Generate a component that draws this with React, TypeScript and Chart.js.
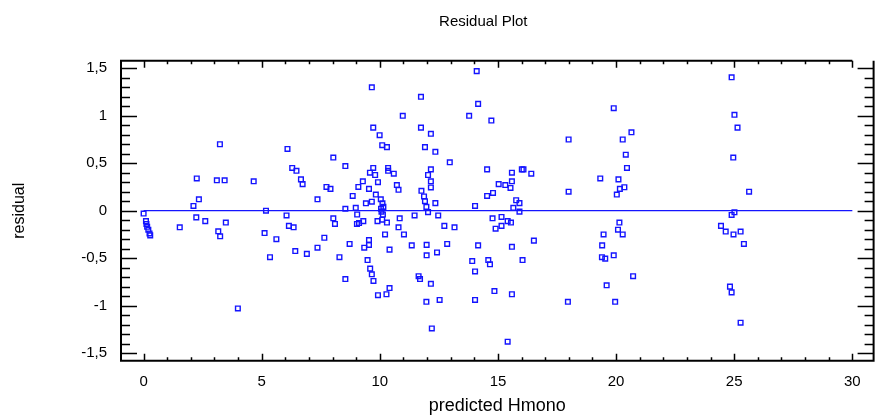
import React, { useEffect, useRef } from "react";
import { Chart, registerables } from "chart.js";

Chart.register(...registerables);

const predicted: number[] = [
  0.0, 0.1, 0.12, 0.15, 0.2, 0.25, 0.28, 1.53, 2.11, 2.25, 2.34, 2.23, 2.61, 3.23, 3.1, 3.43, 3.48, 3.16, 3.24, 3.99,
  4.66, 5.18, 5.12, 5.35, 5.62, 6.05, 6.15, 6.35, 6.42, 6.09, 6.29, 6.47, 6.66, 6.73, 6.91, 7.36, 7.36, 7.65, 7.74, 7.91,
  8.03, 8.03, 8.1, 8.29, 8.54, 8.54, 8.54, 8.72, 8.85, 8.98, 9.04, 9.03, 9.12, 9.09, 9.28, 9.3, 9.34, 9.41, 9.48, 9.54,
  9.54, 9.54, 9.58, 9.59, 9.66, 9.66, 9.66, 9.72, 9.72, 9.73, 9.8, 9.83, 9.92, 9.92, 9.9, 9.99, 10.04, 10.11, 10.15, 10.05,
  10.07, 10.13, 10.1, 10.1, 10.3, 10.3, 10.22, 10.28, 10.35, 10.35, 10.41, 10.41, 10.59, 10.72, 10.79, 10.84, 10.79, 10.97, 11.02, 11.35,
  11.47, 11.64, 11.7, 11.74, 11.74, 11.76, 11.87, 11.91, 11.97, 11.91, 12.04, 11.98, 11.98, 11.97, 12.16, 12.35, 12.16, 12.04, 12.16, 12.16,
  12.35, 12.47, 12.42, 12.53, 12.16, 12.2, 12.73, 12.85, 12.96, 13.16, 13.78, 13.91, 14.03, 14.03, 14.03, 14.1, 14.16, 14.16, 14.54, 14.54,
  14.59, 14.66, 14.72, 14.79, 14.77, 14.85, 14.9, 15.03, 15.15, 15.15, 15.31, 15.41, 15.41, 15.53, 15.55, 15.59, 15.59, 15.59, 15.59, 15.65,
  15.77, 15.91, 15.91, 16.01, 16.08, 16.04, 16.41, 16.52, 17.99, 17.99, 17.96, 19.33, 19.4, 19.54, 19.41, 19.47, 19.6, 19.9, 19.9, 19.96,
  20.03, 20.1, 20.16, 20.35, 20.14, 20.08, 20.28, 20.28, 20.41, 20.46, 20.65, 20.72, 24.44, 24.64, 24.82, 24.89, 24.89, 24.89, 24.96, 24.97,
  25.01, 25.01, 25.14, 25.27, 25.27, 25.41, 25.63,
];

const residual: number[] = [
  -0.03, -0.11, -0.14, -0.17, -0.2, -0.24, -0.26, -0.175, 0.05, 0.34, 0.12, -0.07, -0.11, 0.7, 0.32, 0.32, -0.125, -0.217, -0.27, -1.03,
  0.31, 0.0, -0.235, -0.49, -0.3, -0.05, -0.16, -0.175, -0.425, 0.65, 0.45, 0.42, 0.33, 0.28, -0.455, 0.12, -0.39, -0.285, 0.25, 0.23,
  0.56, -0.08, -0.14, -0.49, 0.47, 0.02, -0.72, -0.35, 0.155, 0.03, -0.04, -0.14, -0.13, 0.25, 0.31, -0.11, -0.39, 0.078, -0.52, 0.23,
  -0.31, -0.36, 0.4, -0.61, 1.3, 0.095, -0.67, 0.875, 0.45, -0.74, 0.376, 0.17, 0.3, -0.89, -0.11, 0.795, 0.12, 0.078, 0.04, 0.02,
  -0.01, -0.04, -0.095, 0.69, 0.67, -0.125, -0.25, -0.88, 0.45, 0.42, -0.41, -0.815, 0.39, 0.27, 0.22, -0.08, -0.175, 1.0, -0.25, -0.365,
  -0.05, -0.69, -0.72, 1.2, 0.875, 0.21, 0.15, 0.1, 0.04, 0.67, -0.015, -0.36, -0.47, -0.96, 0.81, 0.62, 0.435, 0.376, 0.31, 0.245,
  0.08, -0.05, -0.44, -0.94, -0.77, -1.24, -0.16, -0.35, 0.51, -0.175, 1.0, -0.53, 0.05, -0.64, -0.94, 1.47, 1.125, -0.365, 0.435, 0.155,
  -0.52, -0.565, 0.95, 0.187, -0.08, -0.846, -0.19, 0.28, -0.066, -0.16, 0.27, -0.11, -1.38, 0.24, -0.125, 0.4, 0.31, -0.38, -0.88, 0.03,
  0.11, 0.08, -0.01, 0.435, 0.435, -0.52, 0.39, -0.315, 0.75, 0.2, -0.96, 0.34, -0.49, -0.505, -0.365, -0.25, -0.786, 1.08, -0.47, -0.96,
  0.17, 0.33, 0.23, 0.247, -0.125, -0.2, -0.25, 0.75, 0.59, 0.45, 0.826, -0.69, -0.16, -0.22, -0.8, -0.86, 1.405, -0.045, 0.56, -0.25,
  1.01, -0.017, 0.875, -0.22, -1.18, -0.35, 0.2,
];

const zeroLineX: number[] = [0, 30];
const xTickValues: number[] = [0, 5, 10, 15, 20, 25, 30];
const yTickValues: number[] = [-1.5, -1, -0.5, 0, 0.5, 1, 1.5];
const xMinorStep = 1;
const yMinorStep = 0.1;

const chartTitle = "Residual Plot";
const xTitle = "predicted Hmono";
const yTitle = "residual";

const FONT = "'Liberation Sans', Arial, Helvetica, sans-serif";
const BLUE = "rgb(20,20,255)";

const framePlugin = {
  id: "frameTicks",
  afterDatasetsDraw(chart: any) {
    const { ctx, chartArea } = chart;
    const { left, right, top, bottom } = chartArea;
    const xs = chart.scales.x;
    const ys = chart.scales.y;
    const xLast = xs.getPixelForValue(xTickValues[xTickValues.length - 1]);
    ctx.save();
    ctx.strokeStyle = "#000";
    ctx.lineWidth = 2;
    ctx.beginPath();
    ctx.moveTo(xLast, top);
    ctx.lineTo(left, top);
    ctx.lineTo(left, bottom);
    ctx.lineTo(right, bottom);
    ctx.lineTo(right, top);
    ctx.stroke();
    ctx.lineWidth = 1.5;
    ctx.beginPath();
    const xMin = Math.ceil(xs.min / xMinorStep) * xMinorStep;
    for (let v = xMin; v <= xs.max + 1e-9; v += xMinorStep) {
      const major = Math.abs(v / 5 - Math.round(v / 5)) < 1e-6;
      const len = major ? 7 : 3.5;
      const px = Math.round(xs.getPixelForValue(v)) + 0.5;
      ctx.moveTo(px, bottom);
      ctx.lineTo(px, bottom - len);
      ctx.moveTo(px, top);
      ctx.lineTo(px, top + len);
    }
    const yStart = Math.ceil(ys.min / yMinorStep - 1e-6);
    const yEnd = Math.floor(ys.max / yMinorStep + 1e-6);
    for (let i = yStart; i <= yEnd; i++) {
      const v = i * yMinorStep;
      const major = i % 5 === 0;
      const len = major ? 16 : 9;
      const py = Math.round(ys.getPixelForValue(v)) + 0.5;
      ctx.moveTo(left, py);
      ctx.lineTo(left + len, py);
      ctx.moveTo(right, py);
      ctx.lineTo(right - len, py);
    }
    ctx.stroke();
    ctx.fillStyle = "#000";
    ctx.font = `15px ${FONT}`;
    ctx.textAlign = "center";
    ctx.textBaseline = "middle";
    ctx.fillText(chartTitle, (left + right) / 2 - 14, 22);
    ctx.restore();
  },
};

const fmt = (v: number) => String(v).replace(".", ",");

export default function App() {
  const canvasRef = useRef<HTMLCanvasElement | null>(null);

  useEffect(() => {
    document.body.style.margin = "0";
    const canvas = canvasRef.current;
    if (!canvas) return;
    const points = predicted.map((x, i) => ({ x, y: residual[i] }));
    const line = zeroLineX.map((x) => ({ x, y: 0 }));
    const chart = new Chart(canvas, {
      type: "scatter",
      data: {
        datasets: [
          {
            label: "zero",
            data: line,
            showLine: true,
            borderColor: BLUE,
            borderWidth: 1.3,
            pointRadius: 0,
            order: 2,
          },
          {
            label: "residual",
            data: points,
            pointStyle: "rect",
            pointRadius: 3.3,
            borderColor: BLUE,
            backgroundColor: "rgba(0,0,0,0)",
            borderWidth: 1.4,
            order: 1,
          },
        ],
      },
      options: {
        responsive: false,
        animation: false,
        devicePixelRatio: 1,
        layout: { padding: { left: 0, right: 2, top: 60.7, bottom: 0 } },
        plugins: {
          legend: { display: false },
          tooltip: { enabled: false },
          title: { display: false },
        },
        scales: {
          x: {
            type: "linear",
            min: -0.957,
            max: 30.9,
            grid: { display: false, drawTicks: false },
            border: { display: false },
            afterBuildTicks: (scale: any) => {
              scale.ticks = xTickValues.map((value) => ({ value }));
            },
            afterFit: (scale: any) => {
              scale.height = 57.3;
            },
            ticks: {
              color: "#000",
              font: { family: FONT, size: 15 },
              padding: 12,
              maxRotation: 0,
              autoSkip: false,
              callback: (v: any) => fmt(Number(v)),
            },
            title: {
              display: true,
              text: xTitle,
              color: "#000",
              font: { family: FONT, size: 18 },
              padding: { top: 0, bottom: 1.5 },
            },
          },
          y: {
            type: "linear",
            min: -1.58,
            max: 1.58,
            grid: { display: false, drawTicks: false },
            border: { display: false },
            afterBuildTicks: (scale: any) => {
              scale.ticks = yTickValues.map((value) => ({ value }));
            },
            afterFit: (scale: any) => {
              scale.width = 121;
            },
            ticks: {
              color: "#000",
              font: { family: FONT, size: 15 },
              padding: 14,
              autoSkip: false,
              callback: (v: any) => fmt(Number(v)),
            },
            title: {
              display: true,
              text: yTitle,
              color: "#000",
              font: { family: FONT, size: 16 },
              padding: { top: 10.4, bottom: 0 },
            },
          },
        },
      },
      plugins: [framePlugin],
    });
    return () => chart.destroy();
  }, []);

  return (
    <div style={{ width: 879, height: 418 }}>
      <canvas ref={canvasRef} width={879} height={418} style={{ display: "block" }} />
    </div>
  );
}
